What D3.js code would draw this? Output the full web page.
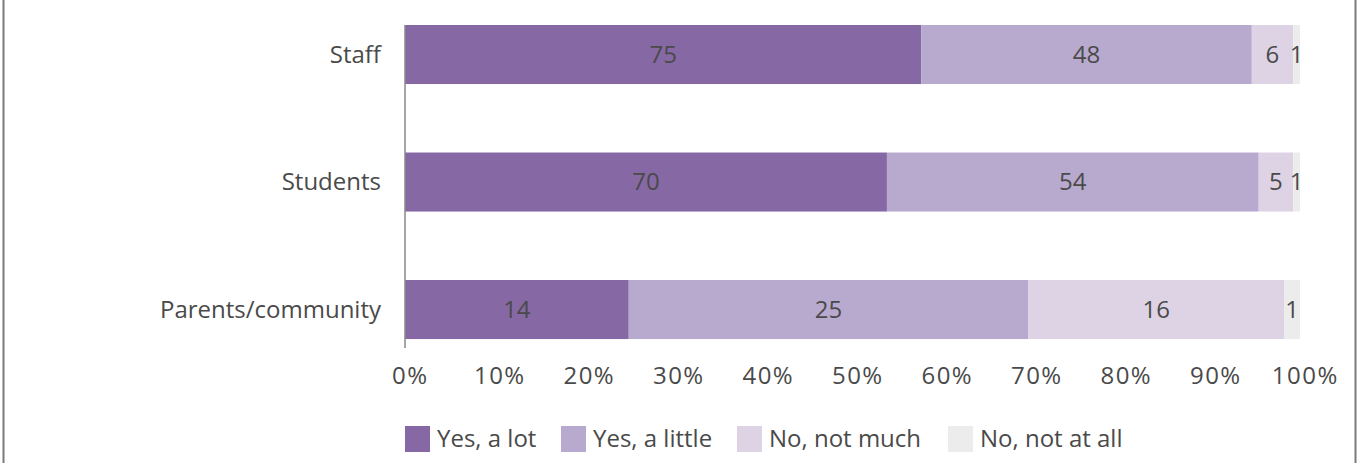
<!DOCTYPE html>
<html>
<head>
<meta charset="utf-8">
<script src="https://cdn.jsdelivr.net/npm/d3@7"></script>
<style>
  body { margin: 0; background: #fff; }
  svg text { font-family: "Open Sans", "Noto Sans", sans-serif; fill: #4a4a4a; }
</style>
</head>
<body>
<svg id="chart" width="1360" height="463"></svg>
<script>
(function() {
const categories = ['Staff', 'Students', 'Parents/community'];
const seriesNames = ['Yes, a lot', 'Yes, a little', 'No, not much', 'No, not at all'];
const yesALot = [75, 70, 14];
const yesALittle = [48, 54, 25];
const noNotMuch = [6, 5, 16];
const noNotAtAll = [1, 1, 1];
const tickValues = [0, 0.1, 0.2, 0.3, 0.4, 0.5, 0.6, 0.7, 0.8, 0.9, 1];

const colors = ['#8668a5', '#b8a9ce', '#ddd3e4', '#ececec'];

const svg = d3.select('svg#chart');
const W = +svg.attr('width');
const H = +svg.attr('height');

// frame: just the two side rules
svg.append('line').attr('x1', 3.5).attr('x2', 3.5).attr('y1', 0).attr('y2', H)
    .attr('stroke', '#7a7a7a').attr('stroke-width', 2);
svg.append('line').attr('x1', W - 4.5).attr('x2', W - 4.5).attr('y1', 0).attr('y2', H)
    .attr('stroke', '#7a7a7a').attr('stroke-width', 2);

const rows = categories.map((c, i) => ({
  cat: c,
  vals: [yesALot[i], yesALittle[i], noNotMuch[i], noNotAtAll[i]]
}));

const x = d3.scaleLinear().domain([0, 1]).range([405, 1300]);
const y = d3.scaleBand().domain(categories).range([-13.25, 377.3]).paddingInner(0.537).paddingOuter(0.3);

const g = svg.append('g');

rows.forEach(r => {
  const total = d3.sum(r.vals);
  let acc = 0;
  r.vals.forEach((v, k) => {
    const x0 = x(acc / total);
    acc += v;
    const x1 = x(acc / total);
    g.append('rect')
        .attr('x', x0).attr('y', y(r.cat))
        .attr('width', x1 - x0).attr('height', y.bandwidth())
        .attr('fill', colors[k]);
    g.append('text')
        .attr('x', (x0 + x1) / 2)
        .attr('y', y(r.cat) + y.bandwidth() / 2)
        .attr('dy', '0.35em')
        .attr('text-anchor', 'middle')
        .style('font-size', '24px')
        .text(v);
  });
  g.append('text')
      .attr('x', 381)
      .attr('y', y(r.cat) + y.bandwidth() / 2)
      .attr('dy', '0.35em')
      .attr('text-anchor', 'end')
      .style('font-size', '24px')
      .text(r.cat);
});

// category axis rule
g.append('line')
    .attr('x1', x(0)).attr('x2', x(0))
    .attr('y1', y(categories[0])).attr('y2', 348)
    .attr('stroke', '#888').attr('stroke-width', 1.5);

const xAxis = g.append('g')
    .attr('transform', 'translate(0,362)')
    .call(d3.axisBottom(x).tickValues(tickValues).tickFormat(d3.format('.0%')).tickSize(0).tickPadding(0));
xAxis.select('.domain').remove();
xAxis.selectAll('text')
    .attr('dy', '0.35em').attr('y', 14)
    .attr('dx', '0.2em')
    .style('font-size', '24px')
    .style('letter-spacing', '1.5px')
    .style('font-family', '"Open Sans", "Noto Sans", sans-serif')
    .attr('fill', '#4a4a4a');

// legend
const legendX = [405, 561, 737, 948];
const legend = g.append('g').attr('transform', 'translate(0,426)');
seriesNames.forEach((s, k) => {
  legend.append('rect')
      .attr('x', legendX[k]).attr('y', 0)
      .attr('width', 25).attr('height', 26)
      .attr('fill', colors[k]);
  legend.append('text')
      .attr('x', legendX[k] + 32).attr('y', 13)
      .attr('dy', '0.35em')
      .style('font-size', '24px')
      .text(s);
});
})();
</script>
</body>
</html>
